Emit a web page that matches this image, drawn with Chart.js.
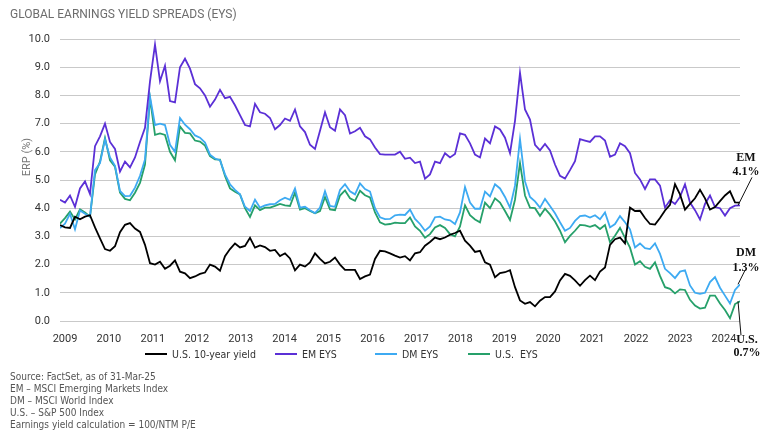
<!DOCTYPE html>
<html>
<head>
<meta charset="utf-8">
<script src="https://cdn.jsdelivr.net/npm/chart.js@4.4.1/dist/chart.umd.min.js"></script>
<style>
  html, body { margin: 0; padding: 0; background: #fff; }
  #box { position: relative; width: 767px; height: 437px; overflow: hidden; }
  #chart { position: absolute; left: 0; top: 0; }
  #title { position: absolute; left: 10px; top: 7px; font: 12px Roboto, sans-serif; color: #6d6d6d; }
  #legend { position: absolute; left: 0; top: 347px; width: 767px; height: 16px;
            font: 10.5px 'Liberation Sans Narrow', 'DejaVu Sans Condensed', sans-serif; color: #333; white-space: pre; }
  #legend .item { position: absolute; top: 0; display: flex; align-items: center; height: 14px; }
  #legend i { display: inline-block; width: 22px; height: 2px; margin-right: 5px; }
  #notes { position: absolute; left: 10px; top: 371px; font: 10px/12px 'Liberation Sans Narrow', 'DejaVu Sans Condensed', sans-serif; color: #555; }
</style>
</head>
<body>
<div id="box">
  <canvas id="chart" width="767" height="437"></canvas>
  <div id="title">GLOBAL EARNINGS YIELD SPREADS (EYS)</div>
  <div id="legend"></div>
  <div id="notes">
    Source: FactSet, as of 31-Mar-25<br>
    EM – MSCI Emerging Markets Index<br>
    DM – MSCI World Index<br>
    U.S. – S&amp;P 500 Index<br>
    Earnings yield calculation = 100/NTM P/E
  </div>
</div>
<script>
// year labels along the bottom
const years = ["2009", "2010", "2011", "2012", "2013", "2014", "2015", "2016",
               "2017", "2018", "2019", "2020", "2021", "2022", "2023", "2024"];

const seriesNames = ["U.S. 10-year yield", "EM EYS", "DM EYS", "U.S.  EYS"];
const endNames = ["EM", "DM", "U.S."];

// values, evenly spaced from early 2009 to Mar-25
const usYield = [
  3.4, 3.32, 3.3, 3.7, 3.61, 3.7, 3.75, 3.32, 2.93, 2.55,
  2.49, 2.65, 3.15, 3.41, 3.47, 3.28, 3.16, 2.7, 2.05, 2.0,
  2.1, 1.85, 1.96, 2.15, 1.75, 1.69, 1.52, 1.58, 1.67, 1.72,
  2.0, 1.93, 1.78, 2.3, 2.55, 2.75, 2.61, 2.66, 2.95, 2.6,
  2.68, 2.62, 2.49, 2.52, 2.3, 2.4, 2.22, 1.8, 2.0, 1.93,
  2.08, 2.4, 2.2, 2.04, 2.1, 2.25, 2.0, 1.81, 1.81, 1.81,
  1.49, 1.58, 1.65, 2.2, 2.49, 2.47, 2.4, 2.32, 2.25, 2.3,
  2.15, 2.4, 2.44, 2.67, 2.8, 2.96, 2.9, 2.96, 3.06, 3.12,
  3.2, 2.85, 2.67, 2.45, 2.49, 2.08, 2.0, 1.55, 1.7, 1.73,
  1.8, 1.2, 0.73, 0.61, 0.67, 0.52, 0.72, 0.85, 0.85, 1.05,
  1.44, 1.67, 1.6, 1.44, 1.25, 1.45, 1.61, 1.45, 1.75, 1.9,
  2.7, 2.9, 2.96, 2.75, 4.02, 3.9, 3.91, 3.65, 3.44, 3.42,
  3.65, 3.92, 4.12, 4.85, 4.49, 3.95, 4.15, 4.35, 4.65, 4.35,
  3.95, 4.04, 4.25, 4.45, 4.6, 4.21, 4.2
];

const emEys = [
  4.3, 4.2, 4.45, 4.05, 4.7, 4.95, 4.5, 6.2, 6.55, 7.0,
  6.35, 6.1, 5.3, 5.65, 5.45, 5.8, 6.35, 6.85, 8.5, 9.8,
  8.5, 9.05, 7.8, 7.75, 9.0, 9.3, 8.95, 8.4, 8.25, 8.0,
  7.6, 7.85, 8.2, 7.9, 7.95, 7.65, 7.3, 6.95, 6.9, 7.7,
  7.4, 7.35, 7.2, 6.8, 6.95, 7.18, 7.1, 7.5, 6.9, 6.7,
  6.25, 6.1, 6.75, 7.4, 6.87, 6.75, 7.5, 7.3, 6.65, 6.73,
  6.85, 6.55, 6.44, 6.15, 5.92, 5.9, 5.9, 5.9, 6.0, 5.75,
  5.79, 5.6, 5.65, 5.05, 5.2, 5.65, 5.6, 5.95, 5.8, 5.92,
  6.65, 6.6, 6.3, 5.9, 5.8, 6.47, 6.3, 6.9, 6.79, 6.5,
  5.95, 7.1, 8.8, 7.5, 7.14, 6.25, 6.05, 6.28, 6.05, 5.55,
  5.15, 5.05, 5.35, 5.67, 6.45, 6.4, 6.35, 6.55, 6.55, 6.4,
  5.82, 5.9, 6.3, 6.2, 5.95, 5.25, 5.02, 4.68, 5.02, 5.02,
  4.8, 4.02, 4.28, 4.15, 4.4, 4.85, 4.2, 3.93, 3.6, 4.15,
  4.45, 4.04, 4.0, 3.74, 4.0, 4.09, 4.1
];

const dmEys = [
  3.3, 3.45, 3.8, 3.25, 3.92, 3.8, 3.7, 5.35, 5.6, 6.44,
  5.8, 5.5, 4.61, 4.43, 4.44, 4.73, 5.15, 5.73, 7.96, 6.95,
  7.0, 6.95, 6.25, 6.0, 7.2, 6.96, 6.8, 6.58, 6.5, 6.33,
  5.9, 5.76, 5.7, 5.2, 4.85, 4.65, 4.49, 4.05, 3.9, 4.3,
  4.02, 4.1, 4.14, 4.15, 4.28, 4.37, 4.3, 4.7, 4.02, 4.05,
  3.93, 3.83, 4.02, 4.6, 4.08, 4.05, 4.65, 4.85, 4.6, 4.49,
  4.88, 4.68, 4.59, 4.0, 3.68, 3.61, 3.62, 3.75, 3.77, 3.76,
  3.95, 3.62, 3.44, 3.2, 3.35, 3.68, 3.7, 3.6, 3.57, 3.44,
  3.85, 4.75, 4.2, 3.98, 3.98, 4.59, 4.42, 4.85, 4.7, 4.4,
  4.02, 4.8, 6.45, 4.95, 4.4, 4.24, 4.02, 4.33, 4.08, 3.82,
  3.5, 3.2, 3.3, 3.55, 3.72, 3.74, 3.67, 3.75, 3.61, 3.85,
  3.32, 3.44, 3.72, 3.5, 3.25, 2.61, 2.75, 2.58, 2.55, 2.75,
  2.38, 1.85, 1.7, 1.52, 1.75, 1.8, 1.26, 1.0, 0.96, 1.0,
  1.38, 1.56, 1.18, 0.9, 0.62, 1.1, 1.3
];

const usEys = [
  3.45, 3.65, 3.88, 3.6, 3.96, 3.85, 3.7, 5.2, 5.65, 6.49,
  5.7, 5.47, 4.55, 4.33, 4.28, 4.55, 4.9, 5.55, 7.9, 6.6,
  6.65, 6.6, 6.0, 5.7, 6.9, 6.67, 6.65, 6.4, 6.36, 6.22,
  5.85, 5.73, 5.72, 5.14, 4.7, 4.58, 4.49, 4.0, 3.69, 4.1,
  3.93, 4.02, 4.02, 4.08, 4.15, 4.1, 4.08, 4.55, 3.95, 4.0,
  3.9, 3.82, 3.9, 4.4, 3.96, 3.93, 4.45, 4.63, 4.35, 4.26,
  4.62, 4.46, 4.38, 3.85, 3.5, 3.42, 3.44, 3.49, 3.47, 3.47,
  3.67, 3.35, 3.2, 2.95, 3.08, 3.32, 3.4, 3.3, 3.08, 3.0,
  3.35, 4.1, 3.75, 3.6, 3.5, 4.2, 4.0, 4.35, 4.2, 3.9,
  3.58, 4.3, 5.6, 4.45, 4.02, 4.0, 3.73, 3.98, 3.78, 3.53,
  3.2, 2.79, 3.02, 3.2, 3.41, 3.39, 3.34, 3.4, 3.26, 3.4,
  2.79, 3.02, 3.3, 2.95, 2.6, 2.0, 2.12, 1.92, 1.85, 2.08,
  1.6, 1.2, 1.14, 0.98, 1.12, 1.1, 0.75, 0.55, 0.44, 0.47,
  0.9, 0.9, 0.62, 0.39, 0.1, 0.6, 0.7
];

const colors = ["#000000", "#5b30d6", "#3daaf2", "#26a06a"];
const allSeries = [usYield, emEys, dmEys, usEys];
const yearStep = 8.786; // points between year labels
const legendLefts = [145, 275, 375, 468];

Chart.defaults.font.family = "Roboto, sans-serif";
Chart.defaults.color = "#333";

function toPoints(arr) {
    return arr.map((v, i) => ({ x: i, y: v }));
}

// right-hand end labels + y axis title
const endNotes = {
    id: "endNotes",
    afterDatasetsDraw(chart) {
        const ctx = chart.ctx;
        ctx.save();
        ctx.fillStyle = "#777";
        ctx.font = "11px Roboto, sans-serif";
        ctx.textAlign = "center";
        ctx.textBaseline = "middle";
        ctx.translate(27, 157);
        ctx.rotate(-Math.PI / 2);
        ctx.fillText("ERP (%)", 0, 0);
        ctx.restore();

        const offs = [
            { lx: 12, ly: -28, tx: 6, t1: -47, t2: -33 },
            { lx: 5, ly: -14, tx: 6, t1: -31, t2: -16 },
            { lx: 1, ly: 34, tx: 7, t1: 39, t2: 52 }
        ];
        endNames.forEach((name, k) => {
            const ds = k + 1;
            const meta = chart.getDatasetMeta(ds);
            const pt = meta.data[meta.data.length - 1];
            const vals = allSeries[ds];
            const o = offs[k];
            ctx.save();
            ctx.strokeStyle = "#111";
            ctx.lineWidth = 1;
            ctx.beginPath();
            ctx.moveTo(pt.x - 2, pt.y);
            ctx.lineTo(pt.x + o.lx, pt.y + o.ly);
            ctx.stroke();
            ctx.fillStyle = "#111";
            ctx.font = "bold 12px 'Liberation Serif', serif";
            ctx.textAlign = "center";
            ctx.textBaseline = "middle";
            ctx.fillText(name, pt.x + o.tx, pt.y + o.t1);
            ctx.fillText(vals[vals.length - 1].toFixed(1) + "%", pt.x + o.tx, pt.y + o.t2);
            ctx.restore();
        });
    }
};

window.onload = function () {
    const legend = document.getElementById("legend");
    seriesNames.forEach((n, i) => {
        const s = document.createElement("span");
        s.className = "item";
        s.style.left = legendLefts[i] + "px";
        s.innerHTML = '<i style="background:' + colors[i] + '"></i>' + n;
        legend.appendChild(s);
    });

    const ctx = document.getElementById("chart").getContext("2d");
    new Chart(ctx, {
        type: "line",
        data: {
            datasets: allSeries.map((arr, i) => ({
                label: seriesNames[i],
                data: toPoints(arr),
                borderColor: colors[i],
                backgroundColor: colors[i],
                borderWidth: 1.8,
                pointRadius: 0,
                tension: 0
            }))
        },
        options: {
            responsive: false,
            animation: false,
            layout: { padding: { left: 0, right: 27, top: 39, bottom: 94 } },
            plugins: { legend: { display: false }, tooltip: { enabled: false } },
            scales: {
                x: {
                    type: "linear",
                    min: 0,
                    max: usYield.length - 1,
                    grid: { display: false },
                    border: { display: false },
                    afterBuildTicks: s => { s.ticks = years.map((_, k) => ({ value: 1 + k * yearStep })); },
                    afterFit: s => { s.height = 22; },
                    ticks: {
                        autoSkip: false,
                        maxRotation: 0,
                        padding: 4,
                        font: { size: 11 },
                        callback: (v, i) => years[i]
                    }
                },
                y: {
                    min: 0,
                    max: 10,
                    grid: { color: "#c9c9c9", drawTicks: false },
                    border: { display: false },
                    afterFit: s => { s.width = 60; },
                    ticks: {
                        stepSize: 1,
                        padding: 10,
                        font: { size: 11 },
                        callback: v => v.toFixed(1)
                    }
                }
            }
        },
        plugins: [endNotes]
    });
};
</script>
</body>
</html>
